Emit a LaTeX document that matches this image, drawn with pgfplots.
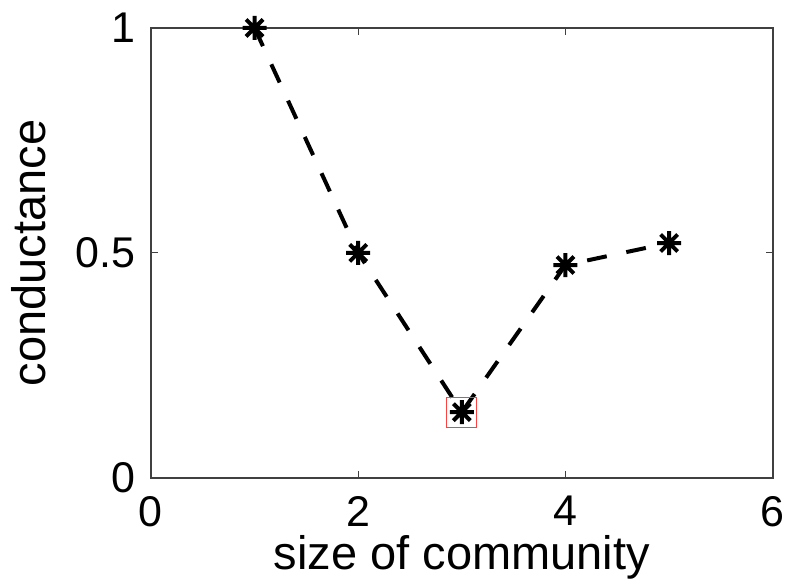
\documentclass[border=0pt]{standalone}
\usepackage{fontspec}
\setmainfont{Liberation Sans}
\usepackage{pgfplots}
\pgfplotsset{compat=1.18}
% eight-armed star, as in the plotting style of the data points
\pgfdeclareplotmark{star8}{%
  \pgfpathmoveto{\pgfqpoint{0pt}{\pgfplotmarksize}}%
  \pgfpathlineto{\pgfqpoint{0pt}{-\pgfplotmarksize}}%
  \pgfpathmoveto{\pgfqpoint{\pgfplotmarksize}{0pt}}%
  \pgfpathlineto{\pgfqpoint{-\pgfplotmarksize}{0pt}}%
  \pgfpathmoveto{\pgfqpoint{0.7071\pgfplotmarksize}{0.7071\pgfplotmarksize}}%
  \pgfpathlineto{\pgfqpoint{-0.7071\pgfplotmarksize}{-0.7071\pgfplotmarksize}}%
  \pgfpathmoveto{\pgfqpoint{0.7071\pgfplotmarksize}{-0.7071\pgfplotmarksize}}%
  \pgfpathlineto{\pgfqpoint{-0.7071\pgfplotmarksize}{0.7071\pgfplotmarksize}}%
  \pgfusepathqstroke}
\begin{document}
\begin{tikzpicture}
\begin{axis}[
  scale only axis,
  width=622pt, height=450pt,
  xmin=0, xmax=6, ymin=0, ymax=1,
  xtick={0,2,4,6}, ytick={0,0.5,1},
  yticklabels={0,0.5,1},
  /pgf/number format/assume math mode=true,
  tick align=inside,
  major tick length=7pt,
  axis line style={line width=1.6pt, black!75},
  every tick/.style={black!75, line width=1pt},
  tick label style={font=\fontsize{43}{51}\selectfont},
  label style={font=\fontsize{47}{56}\selectfont},
  xticklabel style={yshift=-15pt},
  yticklabel style={xshift=-12pt},
  xlabel={size of community},
  ylabel={conductance},
  xlabel style={yshift=-2pt},
  ylabel style={yshift=23pt},
  clip=false,
]
% conductance for each community size
\addplot[black, line width=4pt, dash pattern=on 20pt off 20pt,
  mark=star8, mark size=12pt, mark options={solid, line width=4pt}]
  coordinates {(1,1) (2,0.5) (3,0.146) (4,0.473) (5,0.522)};
% minimum highlighted
\addplot[only marks, mark=square, mark size=15pt,
  mark options={draw=red!75, line width=1.2pt}]
  coordinates {(3,0.146)};
% white margin around the figure
\path (rel axis cs:0,0) ++(-151pt,-108pt);
\path (rel axis cs:1,1) ++(15pt,28pt);
\end{axis}
\end{tikzpicture}
\end{document}
